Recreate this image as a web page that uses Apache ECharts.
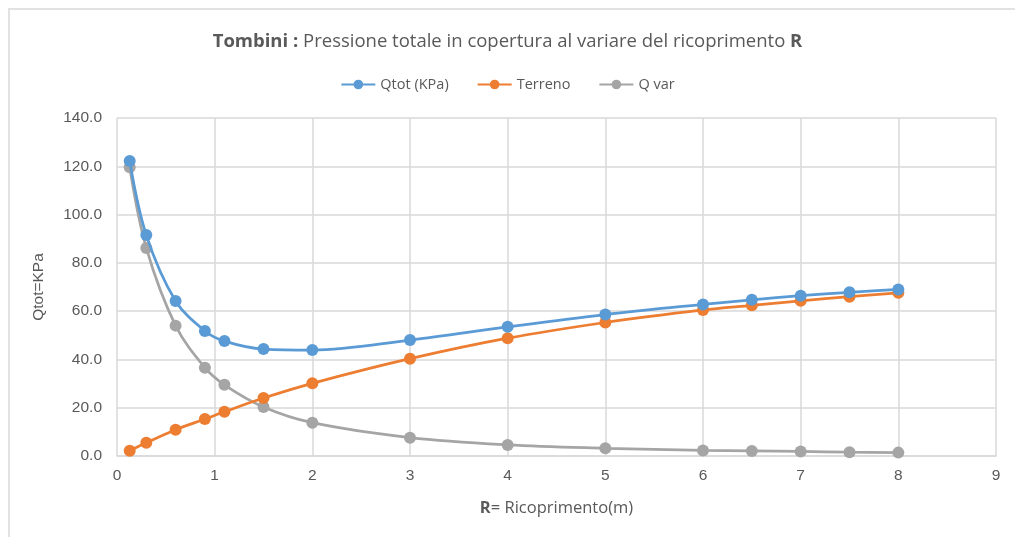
<!DOCTYPE html>
<html>
<head>
<meta charset="utf-8">
<script src="https://cdn.jsdelivr.net/npm/echarts@6/dist/echarts.min.js"></script>
<style>html,body{margin:0;padding:0;background:#fff;}#c{width:1015px;height:537px;}</style>
</head>
<body>
<div id="c"></div>
<script>
const ricoprimento = [0.13, 0.3, 0.6, 0.9, 1.1, 1.5, 2, 3, 4, 5, 6, 6.5, 7, 7.5, 8];
const qtot    = [122.2, 91.5, 64.2, 51.8, 47.6, 44.3, 43.9, 48.0, 53.5, 58.6, 62.8, 64.7, 66.4, 67.8, 69.0];
const terreno = [2.2, 5.5, 10.9, 15.3, 18.3, 24.0, 30.1, 40.3, 48.8, 55.3, 60.5, 62.4, 64.3, 66.0, 67.6];
const qvar    = [119.6, 86.2, 54.0, 36.6, 29.5, 20.3, 13.8, 7.6, 4.6, 3.2, 2.3, 2.1, 1.9, 1.6, 1.4];
const seriesNames = ['Qtot (KPa)', 'Terreno', 'Q var'];
const colors = ['#5B9BD5', '#ED7D31', '#A5A5A5'];

const pairs = arr => ricoprimento.map((x, i) => [x, arr[i]]);
const dataSets = [qtot, terreno, qvar];

const chart = echarts.init(document.getElementById('c'));
const txt = '#595959';
chart.setOption({
  animation: false,
  backgroundColor: '#fff',
  graphic: [{
    type: 'rect', shape: {x: 9, y: 9, width: 1100, height: 600},
    style: {fill: 'none', stroke: '#e2e2e2', lineWidth: 2}, z: -1
  }],
  title: {
    text: '{b|Tombini :} Pressione totale in copertura al variare del ricoprimento {b|R}',
    left: 'center', top: 27,
    textStyle: {
      fontFamily: 'Open Sans', fontSize: 18.5, fontWeight: 'normal', color: txt,
      rich: {b: {fontFamily: 'Open Sans', fontSize: 18.5, fontWeight: 'bold', color: txt}}
    }
  },
  legend: {
    top: 72, left: 'center', itemWidth: 34, itemHeight: 12, itemGap: 28,
    textStyle: {fontFamily: 'Open Sans', fontSize: 14.5, color: txt},
    data: seriesNames
  },
  grid: {left: 117, right: 19, top: 118, bottom: 81, containLabel: false},
  xAxis: {
    type: 'value', min: 0, max: 9, interval: 1,
    name: '{b|R}= Ricoprimento(m)', nameLocation: 'middle', nameGap: 44,
    nameTextStyle: {fontFamily: 'Open Sans', fontSize: 16.5, color: txt,
      rich: {b: {fontFamily: 'Open Sans', fontSize: 16.5, fontWeight: 'bold', color: txt}}},
    axisLine: {show: true, lineStyle: {color: '#d9d9d9', width: 1.5}},
    axisTick: {show: false},
    axisLabel: {fontFamily: 'Liberation Sans', fontSize: 15.5, color: txt, margin: 12},
    splitLine: {show: true, lineStyle: {color: '#d9d9d9', width: 1.5}}
  },
  yAxis: {
    type: 'value', min: 0, max: 140, interval: 20,
    name: 'Qtot=KPa', nameLocation: 'middle', nameGap: 70, nameRotate: 90,
    nameTextStyle: {fontFamily: 'Liberation Sans', fontSize: 15.5, color: txt},
    axisLine: {show: false},
    axisTick: {show: false},
    axisLabel: {fontFamily: 'Liberation Sans', fontSize: 15.5, color: txt, margin: 15,
      formatter: v => v.toFixed(1)},
    splitLine: {show: true, lineStyle: {color: '#d9d9d9', width: 1.5}}
  },
  series: seriesNames.map((name, k) => ({
    name: name, type: 'line', smooth: 0.35,
    data: pairs(dataSets[k]),
    symbol: 'circle', symbolSize: 12,
    lineStyle: {color: colors[k], width: 2.75},
    itemStyle: {color: colors[k]},
    z: 3 - k
  }))
});
</script>
</body>
</html>
